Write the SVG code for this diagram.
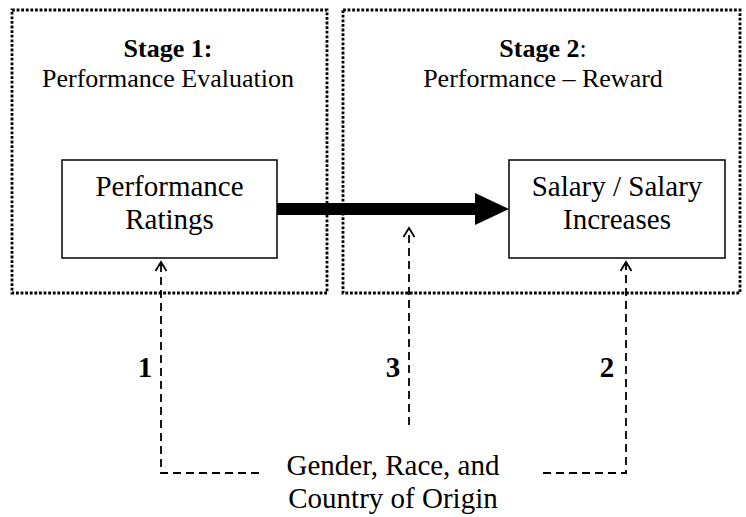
<svg xmlns="http://www.w3.org/2000/svg" width="746" height="517" viewBox="0 0 746 517">
<style>
text{font-family:"Liberation Serif","Times New Roman",serif;fill:#000;text-anchor:middle}
.stage{fill:none;stroke:#000;stroke-width:2.8;stroke-dasharray:2.8 1.8}
.box{fill:#fff;stroke:#000;stroke-width:1.5}
.dash{fill:none;stroke:#000;stroke-width:1.8;stroke-dasharray:8 5}
.head{fill:none;stroke:#000;stroke-width:1.8}
.t26{font-size:26px}
.t29{font-size:29px}
.b{font-weight:bold}
</style>
<rect width="746" height="517" fill="#fff"/>
<g id="stage1">
<rect class="stage" x="12" y="10" width="315" height="283"/>
<text class="t26" x="168" y="57"><tspan class="b">Stage 1:</tspan></text>
<text class="t26" x="168" y="87">Performance Evaluation</text>
</g>
<g id="stage2">
<rect class="stage" x="343" y="10" width="397" height="283"/>
<text class="t26" x="543" y="57"><tspan class="b">Stage 2</tspan>:</text>
<text class="t26" x="543" y="87">Performance – Reward</text>
</g>
<g id="connectors">
<path d="M277 203 H475 V193 L509 209 L475 225 V215 H277 Z" fill="#000"/>
<path class="dash" d="M259 473 H161 V264"/>
<path class="head" d="M155.5 271 L161 262 L166.5 271"/>
<path class="dash" d="M543 473 H626 V264"/>
<path class="head" d="M620.5 271 L626 262 L631.5 271"/>
<path class="dash" d="M409 425 V231"/>
<path class="head" d="M403.5 237 L409 228 L414.5 237"/>
<text class="t29 b" x="145" y="377">1</text>
<text class="t29 b" x="393" y="377">3</text>
<text class="t29 b" x="607" y="377">2</text>
</g>
<g id="ratings">
<rect class="box" x="62" y="160" width="215" height="98"/>
<text class="t29" x="169.5" y="196">Performance</text>
<text class="t29" x="169.5" y="229">Ratings</text>
</g>
<g id="salary">
<rect class="box" x="509" y="160" width="216" height="98"/>
<text class="t29" x="617" y="196">Salary / Salary</text>
<text class="t29" x="617" y="229">Increases</text>
</g>
<g id="demographics">
<text class="t29" x="393" y="475">Gender, Race, and</text>
<text class="t29" x="393" y="508">Country of Origin</text>
</g>
</svg>
